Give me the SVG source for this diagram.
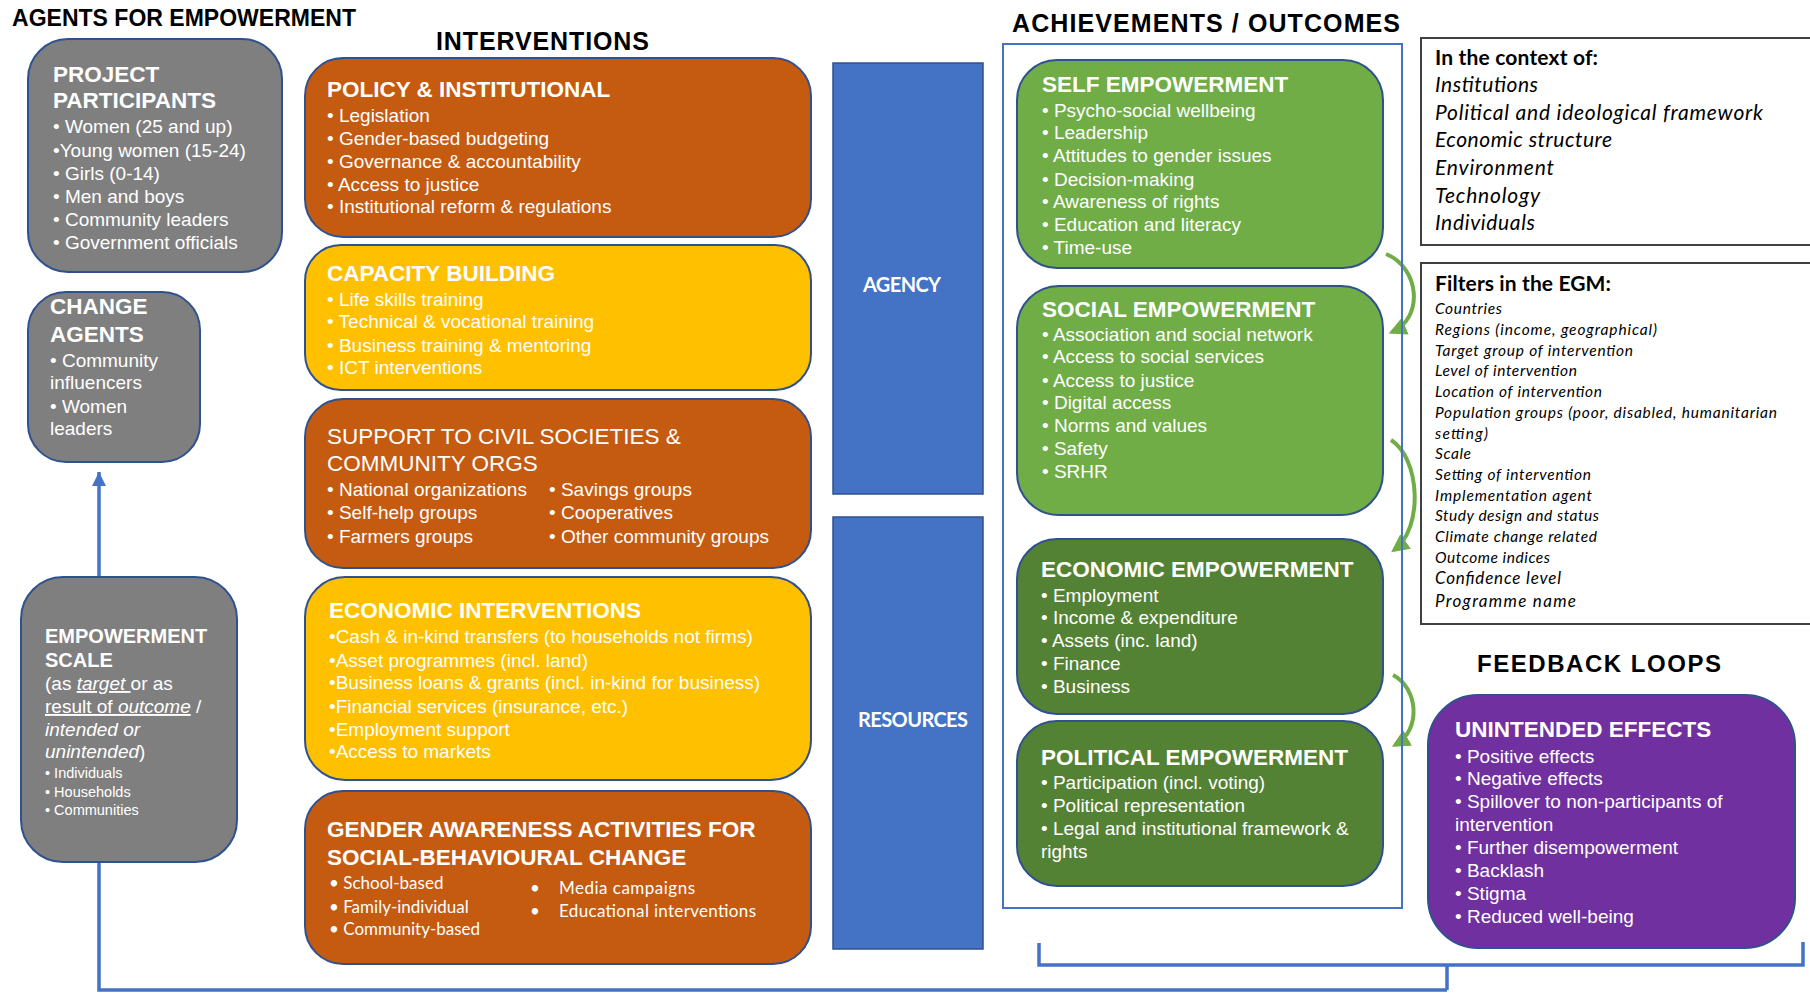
<svg xmlns="http://www.w3.org/2000/svg" width="1810" height="994" viewBox="0 0 1810 994">
<style>
.sec{font-family:"Liberation Sans",Arial,sans-serif;font-weight:bold;fill:#000}
.hd{font-family:"Liberation Sans",Arial,sans-serif;font-weight:bold;fill:#fff;font-size:22.5px}
.tx{font-family:"Liberation Sans",Arial,sans-serif;fill:#fff;font-size:19px}
.cal{font-family:Lato,"Liberation Sans",sans-serif;fill:#fff}
.ctx{font-family:Lato,"Liberation Sans",sans-serif;fill:#000}
.gray{fill:#7F7F7F;stroke:#2F528F;stroke-width:2}
.org{fill:#C55A11;stroke:#2F528F;stroke-width:2}
.yel{fill:#FFC000;stroke:#2F528F;stroke-width:2}
.blu{fill:#4472C4;stroke:#2F528F;stroke-width:1.5}
.lg{fill:#70AD47;stroke:#2F528F;stroke-width:2}
.dg{fill:#548235;stroke:#2F528F;stroke-width:2}
.pur{fill:#7030A0;stroke:#2F528F;stroke-width:2}
.frame{fill:#fff;stroke:#404040;stroke-width:2}
.conn{fill:none;stroke:#4472C4;stroke-width:3.5}
.garr{fill:none;stroke:#70AD47;stroke-width:4}
</style>
<defs>
<marker id="ahB" viewBox="0 0 10 10" refX="10" refY="5" markerWidth="4" markerHeight="4" orient="auto"><path d="M0,0 L10,5 L0,10 z" fill="#4472C4"/></marker>
<marker id="ahG" viewBox="0 0 10 10" refX="8" refY="5" markerWidth="4.5" markerHeight="4.5" orient="auto"><path d="M0,0 L10,5 L0,10 z" fill="#70AD47"/></marker>
</defs>
<rect width="1810" height="994" fill="#fff"/>

<!-- section titles -->
<g id="titles">
<text class="sec" x="12" y="26" font-size="23" textLength="344">AGENTS FOR EMPOWERMENT</text>
<text class="sec" x="436" y="50" font-size="25" textLength="213">INTERVENTIONS</text>
<text class="sec" x="1012" y="32" font-size="25" textLength="388">ACHIEVEMENTS / OUTCOMES</text>
<text class="sec" x="1477" y="672" font-size="24" textLength="244">FEEDBACK LOOPS</text>
</g>

<!-- connectors -->
<g id="connectors">
<path class="conn" d="M99,577 V472" marker-end="url(#ahB)"/>
<path class="conn" d="M99,862 V990 H1447"/>
<path class="conn" d="M1039,943 V965 H1803 V942"/>
<path class="conn" d="M1447,965 V990"/>
<path class="garr" d="M1386,254 C1420,268 1424,318 1392,332" marker-end="url(#ahG)"/>
<path class="garr" d="M1391,440 C1420,458 1424,528 1394,550" marker-end="url(#ahG)"/>
<path class="garr" d="M1393,675 C1418,688 1422,730 1395,745" marker-end="url(#ahG)"/>
</g>

<g id="project-participants">
<rect class="gray" x="28" y="39" width="254" height="233" rx="40"/>
<text class="hd" x="53" y="82">PROJECT</text>
<text class="hd" x="53" y="108">PARTICIPANTS</text>
<text class="tx" x="53" y="133">• Women (25 and up)</text>
<text class="tx" x="53" y="157">•Young women (15-24)</text>
<text class="tx" x="53" y="180">• Girls (0-14)</text>
<text class="tx" x="53" y="203">• Men and boys</text>
<text class="tx" x="53" y="226">• Community leaders</text>
<text class="tx" x="53" y="249">• Government officials</text>
</g>

<g id="change-agents">
<rect class="gray" x="28" y="292" width="172" height="170" rx="38"/>
<text class="hd" x="50" y="314">CHANGE</text>
<text class="hd" x="50" y="342">AGENTS</text>
<text class="tx" x="50" y="367">• Community</text>
<text class="tx" x="50" y="389">influencers</text>
<text class="tx" x="50" y="413">• Women</text>
<text class="tx" x="50" y="435">leaders</text>
</g>

<g id="empowerment-scale">
<rect class="gray" x="21" y="577" width="216" height="285" rx="42"/>
<text class="hd" x="45" y="643" style="font-size:20px">EMPOWERMENT</text>
<text class="hd" x="45" y="667" style="font-size:20px">SCALE</text>
<text class="tx" x="45" y="690">(as <tspan font-style="italic" text-decoration="underline">target </tspan>or as</text>
<text class="tx" x="45" y="713"><tspan text-decoration="underline">result of <tspan font-style="italic">outcome</tspan></tspan> /</text>
<text class="tx" x="45" y="736" font-style="italic">intended or</text>
<text class="tx" x="45" y="758"><tspan font-style="italic">unintended</tspan>)</text>
<text class="tx" x="45" y="778" style="font-size:14.5px">• Individuals</text>
<text class="tx" x="45" y="797" style="font-size:14.5px">• Households</text>
<text class="tx" x="45" y="815" style="font-size:14.5px">• Communities</text>
</g>

<g id="policy-institutional">
<rect class="org" x="305" y="58" width="506" height="179" rx="38"/>
<text class="hd" x="327" y="97">POLICY &amp; INSTITUTIONAL</text>
<text class="tx" x="327" y="122">• Legislation</text>
<text class="tx" x="327" y="145">• Gender-based budgeting</text>
<text class="tx" x="327" y="168">• Governance &amp; accountability</text>
<text class="tx" x="327" y="191">• Access to justice</text>
<text class="tx" x="327" y="213">• Institutional reform &amp; regulations</text>
</g>

<g id="capacity-building">
<rect class="yel" x="305" y="245" width="506" height="145" rx="36"/>
<text class="hd" x="327" y="281">CAPACITY BUILDING</text>
<text class="tx" x="327" y="306">• Life skills training</text>
<text class="tx" x="327" y="328">• Technical &amp; vocational training</text>
<text class="tx" x="327" y="352">• Business training &amp; mentoring</text>
<text class="tx" x="327" y="374">• ICT interventions</text>
</g>

<g id="civil-societies">
<rect class="org" x="305" y="399" width="506" height="169" rx="38"/>
<text class="tx" x="327" y="444" style="font-size:22.5px">SUPPORT TO CIVIL SOCIETIES &amp;</text>
<text class="tx" x="327" y="471" style="font-size:22.5px">COMMUNITY ORGS</text>
<text class="tx" x="327" y="496">• National organizations</text>
<text class="tx" x="327" y="519">• Self-help groups</text>
<text class="tx" x="327" y="543">• Farmers groups</text>
<text class="tx" x="549" y="496">• Savings groups</text>
<text class="tx" x="549" y="519">• Cooperatives</text>
<text class="tx" x="549" y="543">• Other community groups</text>
</g>

<g id="economic-interventions">
<rect class="yel" x="305" y="577" width="506" height="203" rx="40"/>
<text class="hd" x="329" y="618">ECONOMIC INTERVENTIONS</text>
<text class="tx" x="329" y="643">•Cash &amp; in-kind transfers (to households not firms)</text>
<text class="tx" x="329" y="667">•Asset programmes (incl. land)</text>
<text class="tx" x="329" y="689">•Business loans &amp; grants (incl. in-kind for business)</text>
<text class="tx" x="329" y="713">•Financial services (insurance, etc.)</text>
<text class="tx" x="329" y="736">•Employment support</text>
<text class="tx" x="329" y="758">•Access to markets</text>
</g>

<g id="gender-awareness">
<rect class="org" x="305" y="791" width="506" height="173" rx="38"/>
<text class="hd" x="327" y="837">GENDER AWARENESS ACTIVITIES FOR</text>
<text class="hd" x="327" y="865">SOCIAL-BEHAVIOURAL CHANGE</text>
<text class="cal" x="329" y="889" font-size="17">• School-based</text>
<text class="cal" x="329" y="913" font-size="17">• Family-individual</text>
<text class="cal" x="329" y="935" font-size="17">• Community-based</text>
<text class="cal" x="530" y="894" font-size="17">•</text>
<text class="cal" x="559" y="894" font-size="17" textLength="136">Media campaigns</text>
<text class="cal" x="530" y="917" font-size="17">•</text>
<text class="cal" x="559" y="917" font-size="17" textLength="197">Educational interventions</text>
</g>

<g id="agency">
<rect class="blu" x="833" y="63" width="150" height="431"/>
<text class="cal" x="863" y="292" font-size="20" font-weight="bold" textLength="78">AGENCY</text>
</g>

<g id="resources">
<rect class="blu" x="833" y="517" width="150" height="432"/>
<text class="cal" x="858" y="727" font-size="20" font-weight="bold" textLength="110">RESOURCES</text>
</g>

<g id="outcomes-frame">
<rect x="1003" y="44" width="399" height="864" fill="none" stroke="#4472C4" stroke-width="2"/>
</g>

<g id="self-empowerment">
<rect class="lg" x="1017" y="60" width="366" height="208" rx="40"/>
<text class="hd" x="1042" y="92">SELF EMPOWERMENT</text>
<text class="tx" x="1042" y="117">• Psycho-social wellbeing</text>
<text class="tx" x="1042" y="139">• Leadership</text>
<text class="tx" x="1042" y="162">• Attitudes to gender issues</text>
<text class="tx" x="1042" y="186">• Decision-making</text>
<text class="tx" x="1042" y="208">• Awareness of rights</text>
<text class="tx" x="1042" y="231">• Education and literacy</text>
<text class="tx" x="1042" y="254">• Time-use</text>
</g>

<g id="social-empowerment">
<rect class="lg" x="1017" y="286" width="366" height="229" rx="42"/>
<text class="hd" x="1042" y="317">SOCIAL EMPOWERMENT</text>
<text class="tx" x="1042" y="341">• Association and social network</text>
<text class="tx" x="1042" y="363">• Access to social services</text>
<text class="tx" x="1042" y="387">• Access to justice</text>
<text class="tx" x="1042" y="409">• Digital access</text>
<text class="tx" x="1042" y="432">• Norms and values</text>
<text class="tx" x="1042" y="455">• Safety</text>
<text class="tx" x="1042" y="478">• SRHR</text>
</g>

<g id="economic-empowerment">
<rect class="dg" x="1017" y="539" width="366" height="175" rx="40"/>
<text class="hd" x="1041" y="577">ECONOMIC EMPOWERMENT</text>
<text class="tx" x="1041" y="602">• Employment</text>
<text class="tx" x="1041" y="624">• Income &amp; expenditure</text>
<text class="tx" x="1041" y="647">• Assets (inc. land)</text>
<text class="tx" x="1041" y="670">• Finance</text>
<text class="tx" x="1041" y="693">• Business</text>
</g>

<g id="political-empowerment">
<rect class="dg" x="1017" y="721" width="366" height="165" rx="40"/>
<text class="hd" x="1041" y="765">POLITICAL EMPOWERMENT</text>
<text class="tx" x="1041" y="789">• Participation (incl. voting)</text>
<text class="tx" x="1041" y="812">• Political representation</text>
<text class="tx" x="1041" y="835">• Legal and institutional framework &amp;</text>
<text class="tx" x="1041" y="858">rights</text>
</g>

<g id="context">
<rect class="frame" x="1421" y="38" width="400" height="207"/>
<text class="ctx" x="1435" y="64.5" font-size="21" font-weight="bold" textLength="163">In the context of:</text>
<g font-style="italic" font-size="21">
<text class="ctx" x="1435" y="92" textLength="103">Institutions</text>
<text class="ctx" x="1435" y="119.5" textLength="328">Political and ideological framework</text>
<text class="ctx" x="1435" y="147" textLength="177">Economic structure</text>
<text class="ctx" x="1435" y="174.5" textLength="119">Environment</text>
<text class="ctx" x="1435" y="203" textLength="105">Technology</text>
<text class="ctx" x="1435" y="230" textLength="100">Individuals</text>
</g>
</g>

<g id="filters">
<rect class="frame" x="1421" y="263" width="400" height="361"/>
<text class="ctx" x="1435" y="290.5" font-size="21" font-weight="bold" textLength="176">Filters in the EGM:</text>
<g font-style="italic" font-size="15.5">
<text class="ctx" x="1435" y="314" textLength="67">Countries</text>
<text class="ctx" x="1435" y="334.6" textLength="222">Regions (income, geographical)</text>
<text class="ctx" x="1435" y="355.8" textLength="198">Target group of intervention</text>
<text class="ctx" x="1435" y="376" textLength="142">Level of intervention</text>
<text class="ctx" x="1435" y="397" textLength="167">Location of intervention</text>
<text class="ctx" x="1435" y="418" textLength="342">Population groups (poor, disabled, humanitarian</text>
<text class="ctx" x="1435" y="438.6" textLength="53">setting)</text>
<text class="ctx" x="1435" y="459" textLength="36">Scale</text>
<text class="ctx" x="1435" y="480" textLength="156">Setting of intervention</text>
<text class="ctx" x="1435" y="501" textLength="157">Implementation agent</text>
<text class="ctx" x="1435" y="521.4" textLength="164">Study design and status</text>
<text class="ctx" x="1435" y="542" textLength="162">Climate change related</text>
<text class="ctx" x="1435" y="563" textLength="115">Outcome indices</text>
<text class="ctx" x="1435" y="584" font-size="17" textLength="126">Confidence level</text>
<text class="ctx" x="1435" y="606.7" font-size="17" textLength="141">Programme name</text>
</g>
</g>

<g id="unintended-effects">
<rect class="pur" x="1428" y="695" width="367" height="253" rx="50"/>
<text class="hd" x="1455" y="737">UNINTENDED EFFECTS</text>
<text class="tx" x="1455" y="763">• Positive effects</text>
<text class="tx" x="1455" y="785">• Negative effects</text>
<text class="tx" x="1455" y="808">• Spillover to non-participants of</text>
<text class="tx" x="1455" y="831">intervention</text>
<text class="tx" x="1455" y="854">• Further disempowerment</text>
<text class="tx" x="1455" y="877">• Backlash</text>
<text class="tx" x="1455" y="900">• Stigma</text>
<text class="tx" x="1455" y="923">• Reduced well-being</text>
</g>
</svg>
